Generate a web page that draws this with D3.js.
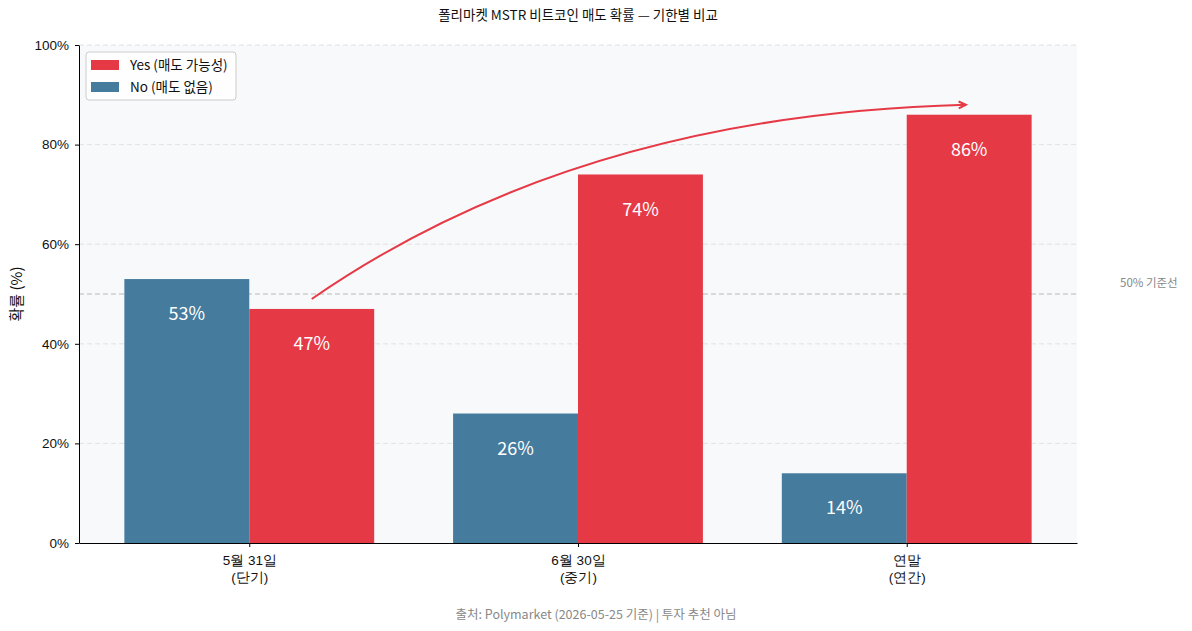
<!DOCTYPE html>
<html>
<head>
<meta charset="utf-8">
<script src="https://cdn.jsdelivr.net/npm/d3@7/dist/d3.min.js"></script>
<style>
  body { margin: 0; background: #fff; }
  svg { font-family: "Noto Sans CJK KR", "Noto Sans", sans-serif; }
</style>
</head>
<body>
<svg id="chart"></svg>
<script>
const categories = ['5월 31일\n(단기)', '6월 30일\n(중기)', '연말\n(연간)'];
const yesValues = [47, 74, 86];
const noValues = [53, 26, 14];
const yTicks = [0, 20, 40, 60, 80, 100];
const seriesNames = ['Yes (매도 가능성)', 'No (매도 없음)'];
const colors = { yes: '#E63946', no: '#457B9D' };
// trend arrow in data units (category index, percent)
const arrowStart = { x: 0.19, y: 49 };
const arrowCtrl = { x: 1.0, y: 86 };
const arrowEnd = { x: 2.18, y: 88 };

const W = 1192, H = 631;
const margin = { top: 45, right: 115, bottom: 88, left: 79 };
const width = W - margin.left - margin.right;
const height = H - margin.top - margin.bottom;
const barW = 0.38;

const svg = d3.select('#chart').attr('width', W).attr('height', H);

const x = d3.scaleLinear()
  .domain([-barW - 0.138, categories.length - 1 + barW + 0.138])
  .range([0, width]);
const y = d3.scaleLinear().domain([0, 100]).range([height, 0]);

const chart = svg.append('g').attr('transform', `translate(${margin.left},${margin.top})`);

chart.append('rect')
  .attr('width', width).attr('height', height)
  .attr('fill', '#F8F9FA');

// grid
chart.selectAll('.grid')
  .data(yTicks.filter(d => d > 0))
  .join('line')
  .attr('x1', 0).attr('x2', width)
  .attr('y1', d => y(d)).attr('y2', d => y(d))
  .attr('stroke', '#dcdcdc').attr('stroke-dasharray', '5,3').attr('stroke-width', 0.8);

// 50% reference
chart.append('line')
  .attr('x1', 0).attr('x2', width)
  .attr('y1', y(50)).attr('y2', y(50))
  .attr('stroke', '#b8b8b8').attr('stroke-dasharray', '5,3').attr('stroke-width', 1);
chart.append('text')
  .attr('x', width + 43).attr('y', y(50) - 11)
  .attr('dy', '0.35em')
  .attr('fill', '#888').attr('font-size', 11.5)
  .text('50% 기준선');

const data = categories.map((c, i) => ({ i, yes: yesValues[i], no: noValues[i] }));

// bars
chart.selectAll('.bar-no')
  .data(data).join('rect')
  .attr('x', d => x(d.i - barW)).attr('width', x(barW) - x(0))
  .attr('y', d => y(d.no)).attr('height', d => height - y(d.no))
  .attr('fill', colors.no);
chart.selectAll('.bar-yes')
  .data(data).join('rect')
  .attr('x', d => x(d.i)).attr('width', x(barW) - x(0))
  .attr('y', d => y(d.yes)).attr('height', d => height - y(d.yes))
  .attr('fill', colors.yes);

// value labels
const labels = [];
data.forEach(d => {
  labels.push({ cx: d.i - barW / 2, v: d.no });
  labels.push({ cx: d.i + barW / 2, v: d.yes });
});
chart.selectAll('.val')
  .data(labels).join('text')
  .attr('x', d => x(d.cx)).attr('y', d => y(d.v - 7))
  .attr('dy', '0.35em').attr('text-anchor', 'middle')
  .attr('fill', '#fff').attr('font-size', 18)
  .text(d => d.v + '%');

// arrow
const p0 = [x(arrowStart.x), y(arrowStart.y)];
const pc = [x(arrowCtrl.x), y(arrowCtrl.y)];
const p1 = [x(arrowEnd.x), y(arrowEnd.y)];
const path = d3.path();
path.moveTo(...p0);
path.quadraticCurveTo(...pc, ...p1);
chart.append('path').attr('d', path.toString())
  .attr('fill', 'none').attr('stroke', colors.yes).attr('stroke-width', 2);
const ang = Math.atan2(p1[1] - pc[1], p1[0] - pc[0]);
const hl = 8, ha = 0.45;
chart.append('path')
  .attr('d', `M${p1[0] - hl * Math.cos(ang - ha)},${p1[1] - hl * Math.sin(ang - ha)}L${p1[0]},${p1[1]}L${p1[0] - hl * Math.cos(ang + ha)},${p1[1] - hl * Math.sin(ang + ha)}`)
  .attr('fill', 'none').attr('stroke', colors.yes).attr('stroke-width', 2);

// axes
const yAxis = d3.axisLeft(y).tickValues(yTicks).tickFormat(d => d + '%').tickSize(4).tickSizeOuter(0);
const yG = chart.append('g').call(yAxis);
yG.select('.domain').attr('stroke', '#000');
yG.selectAll('text').attr('font-size', 13.5).attr('fill', '#111').attr('x', -10);

const xAxis = d3.axisBottom(x).tickValues(data.map(d => d.i)).tickFormat('').tickSize(4).tickSizeOuter(0);
const xG = chart.append('g').attr('transform', `translate(0,${height})`).call(xAxis);
xG.select('.domain').attr('stroke', '#000');
xG.selectAll('.tick').each(function (d) {
  const lines = categories[d].split('\n');
  const t = d3.select(this).append('text')
    .attr('fill', '#111').attr('font-size', 13.5).attr('text-anchor', 'middle')
    .attr('y', 22);
  lines.forEach((l, k) => t.append('tspan').attr('x', 0).attr('dy', k === 0 ? 0 : 17).text(l));
});

// axis label
svg.append('text')
  .attr('transform', `translate(17,${margin.top + height / 2}) rotate(-90)`)
  .attr('text-anchor', 'middle').attr('dy', '0.35em')
  .attr('font-size', 15).attr('fill', '#111')
  .text('확률 (%)');

// title
svg.append('text')
  .attr('x', margin.left + width / 2).attr('y', 20)
  .attr('text-anchor', 'middle').attr('font-size', 13.5).attr('fill', '#111')
  .text('폴리마켓 MSTR 비트코인 매도 확률 — 기한별 비교');

// footer
svg.append('text')
  .attr('x', W / 2).attr('y', 619)
  .attr('text-anchor', 'middle').attr('font-size', 12.5).attr('fill', '#888')
  .text('출처: Polymarket (2026-05-25 기준) | 투자 추천 아님');

// legend
const lg = chart.append('g').attr('transform', 'translate(7,7)');
lg.append('rect').attr('width', 150).attr('height', 48).attr('rx', 3)
  .attr('fill', '#fff').attr('fill-opacity', 0.85).attr('stroke', '#ccc');
[colors.yes, colors.no].forEach((c, k) => {
  lg.append('rect').attr('x', 5).attr('y', 8 + k * 22).attr('width', 28).attr('height', 10).attr('fill', c);
  lg.append('text').attr('x', 44).attr('y', 13 + k * 22).attr('dy', '0.35em')
    .attr('font-size', 13.5).attr('fill', '#111').text(seriesNames[k]);
});
</script>
</body>
</html>
